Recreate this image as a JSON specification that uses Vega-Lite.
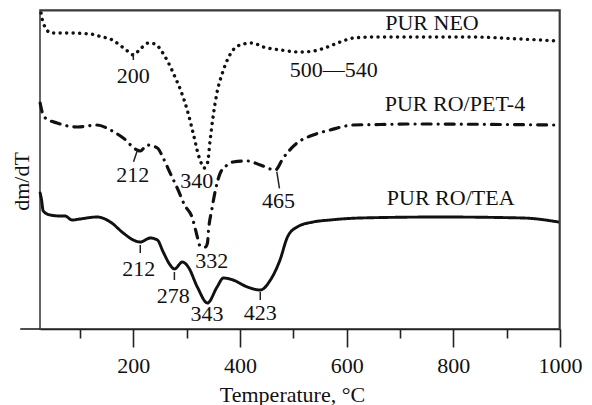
{
  "$schema": "https://vega.github.io/schema/vega-lite/v6.json",
  "width": 520,
  "height": 319,
  "autosize": {"type": "none"},
  "padding": {"left": 40, "top": 10, "right": 32, "bottom": 76},
  "config": {"view": {"stroke": "#333", "strokeWidth": 1.5}, "font": "Liberation Serif"},
  "resolve": {"axis": {"x": "independent"}},
  "datasets": {
    "curves": [
      {"s": "NEO", "t": 27, "v": 316}, {"s": "NEO", "t": 31, "v": 306}, {"s": "NEO", "t": 46, "v": 296}, {"s": "NEO", "t": 76, "v": 296},
      {"s": "NEO", "t": 119, "v": 295}, {"s": "NEO", "t": 142, "v": 292}, {"s": "NEO", "t": 157, "v": 290}, {"s": "NEO", "t": 172, "v": 285},
      {"s": "NEO", "t": 189, "v": 278}, {"s": "NEO", "t": 200, "v": 274}, {"s": "NEO", "t": 213, "v": 280}, {"s": "NEO", "t": 228, "v": 286},
      {"s": "NEO", "t": 241, "v": 285}, {"s": "NEO", "t": 254, "v": 277}, {"s": "NEO", "t": 266, "v": 266}, {"s": "NEO", "t": 279, "v": 251},
      {"s": "NEO", "t": 290, "v": 237}, {"s": "NEO", "t": 301, "v": 219}, {"s": "NEO", "t": 313, "v": 194}, {"s": "NEO", "t": 322, "v": 174},
      {"s": "NEO", "t": 329, "v": 164}, {"s": "NEO", "t": 333, "v": 161}, {"s": "NEO", "t": 339, "v": 166}, {"s": "NEO", "t": 344, "v": 189},
      {"s": "NEO", "t": 350, "v": 214}, {"s": "NEO", "t": 356, "v": 234}, {"s": "NEO", "t": 367, "v": 256}, {"s": "NEO", "t": 378, "v": 271},
      {"s": "NEO", "t": 387, "v": 279}, {"s": "NEO", "t": 400, "v": 284}, {"s": "NEO", "t": 423, "v": 286}, {"s": "NEO", "t": 444, "v": 282},
      {"s": "NEO", "t": 476, "v": 279}, {"s": "NEO", "t": 513, "v": 277}, {"s": "NEO", "t": 538, "v": 278}, {"s": "NEO", "t": 564, "v": 282},
      {"s": "NEO", "t": 588, "v": 287}, {"s": "NEO", "t": 613, "v": 291}, {"s": "NEO", "t": 650, "v": 292}, {"s": "NEO", "t": 714, "v": 292},
      {"s": "NEO", "t": 838, "v": 292}, {"s": "NEO", "t": 926, "v": 290}, {"s": "NEO", "t": 999, "v": 288},

      {"s": "PET", "t": 25.3, "v": 226}, {"s": "PET", "t": 29, "v": 217}, {"s": "PET", "t": 35, "v": 211}, {"s": "PET", "t": 57, "v": 206},
      {"s": "PET", "t": 95, "v": 202}, {"s": "PET", "t": 132, "v": 204}, {"s": "PET", "t": 157, "v": 199}, {"s": "PET", "t": 181, "v": 191},
      {"s": "PET", "t": 207, "v": 179}, {"s": "PET", "t": 213, "v": 178}, {"s": "PET", "t": 226, "v": 184}, {"s": "PET", "t": 245, "v": 181},
      {"s": "PET", "t": 256, "v": 171}, {"s": "PET", "t": 269, "v": 156}, {"s": "PET", "t": 284, "v": 139}, {"s": "PET", "t": 296, "v": 124},
      {"s": "PET", "t": 310, "v": 112}, {"s": "PET", "t": 320, "v": 92}, {"s": "PET", "t": 324, "v": 84}, {"s": "PET", "t": 329, "v": 82},
      {"s": "PET", "t": 335, "v": 82}, {"s": "PET", "t": 339, "v": 86}, {"s": "PET", "t": 341, "v": 99}, {"s": "PET", "t": 347, "v": 119},
      {"s": "PET", "t": 354, "v": 139}, {"s": "PET", "t": 363, "v": 156}, {"s": "PET", "t": 376, "v": 164}, {"s": "PET", "t": 387, "v": 167},
      {"s": "PET", "t": 414, "v": 168}, {"s": "PET", "t": 438, "v": 164}, {"s": "PET", "t": 466, "v": 159}, {"s": "PET", "t": 481, "v": 171},
      {"s": "PET", "t": 507, "v": 186}, {"s": "PET", "t": 537, "v": 194}, {"s": "PET", "t": 569, "v": 199}, {"s": "PET", "t": 613, "v": 204},
      {"s": "PET", "t": 663, "v": 204.5}, {"s": "PET", "t": 714, "v": 205}, {"s": "PET", "t": 995, "v": 204},

      {"s": "TEA", "t": 25.3, "v": 136}, {"s": "TEA", "t": 28, "v": 129}, {"s": "TEA", "t": 31, "v": 118}, {"s": "TEA", "t": 44, "v": 114},
      {"s": "TEA", "t": 63, "v": 113}, {"s": "TEA", "t": 72, "v": 113}, {"s": "TEA", "t": 85, "v": 109}, {"s": "TEA", "t": 100, "v": 110},
      {"s": "TEA", "t": 132, "v": 112}, {"s": "TEA", "t": 157, "v": 107}, {"s": "TEA", "t": 181, "v": 96}, {"s": "TEA", "t": 200, "v": 89},
      {"s": "TEA", "t": 213, "v": 87}, {"s": "TEA", "t": 232, "v": 91}, {"s": "TEA", "t": 245, "v": 89}, {"s": "TEA", "t": 256, "v": 77},
      {"s": "TEA", "t": 269, "v": 64}, {"s": "TEA", "t": 277, "v": 60}, {"s": "TEA", "t": 292, "v": 67}, {"s": "TEA", "t": 303, "v": 62},
      {"s": "TEA", "t": 320, "v": 42}, {"s": "TEA", "t": 339, "v": 26}, {"s": "TEA", "t": 357, "v": 42}, {"s": "TEA", "t": 369, "v": 51},
      {"s": "TEA", "t": 387, "v": 49}, {"s": "TEA", "t": 414, "v": 42}, {"s": "TEA", "t": 438, "v": 39}, {"s": "TEA", "t": 457, "v": 49},
      {"s": "TEA", "t": 475, "v": 69}, {"s": "TEA", "t": 489, "v": 92}, {"s": "TEA", "t": 507, "v": 102}, {"s": "TEA", "t": 537, "v": 107},
      {"s": "TEA", "t": 569, "v": 109}, {"s": "TEA", "t": 625, "v": 111}, {"s": "TEA", "t": 776, "v": 112}, {"s": "TEA", "t": 931, "v": 111},
      {"s": "TEA", "t": 997, "v": 107}
    ],
    "labels": [
      {"t": 200, "v": 253.5, "text": "200"},
      {"t": 576, "v": 259.5, "text": "500—540"},
      {"t": 760, "v": 306.5, "text": "PUR NEO"},
      {"t": 803, "v": 225, "text": "PUR RO/PET-4"},
      {"t": 795, "v": 131.5, "text": "PUR RO/TEA"},
      {"t": 199, "v": 154, "text": "212"},
      {"t": 319, "v": 148, "text": "340"},
      {"t": 472, "v": 128.5, "text": "465"},
      {"t": 210, "v": 60, "text": "212"},
      {"t": 275, "v": 33, "text": "278"},
      {"t": 347, "v": 68, "text": "332"},
      {"t": 338, "v": 15, "text": "343"},
      {"t": 438, "v": 16.5, "text": "423"}
    ],
    "ticks": [
      {"t": 200, "v": 276, "t2": 200, "v2": 269},
      {"t": 207.8, "v": 179, "t2": 200.4, "v2": 167.3},
      {"t": 469, "v": 157.3, "t2": 474, "v2": 140.7},
      {"t": 213, "v": 84, "t2": 213, "v2": 76},
      {"t": 277, "v": 57, "t2": 277, "v2": 49},
      {"t": 438, "v": 37, "t2": 438, "v2": 29}
    ],
    "frame": [
      {"t": 25, "t2": 1000, "v": 317.6, "v2": 319},
      {"t": 997.4, "t2": 1000, "v": 0, "v2": 319}
    ]
  },
  "layer": [
    {
      "data": {"name": "curves"},
      "mark": {"type": "line", "interpolate": "monotone", "strokeCap": "round", "color": "#111"},
      "encoding": {
        "x": {
          "field": "t", "type": "quantitative",
          "scale": {"domain": [25, 1000], "nice": false, "zero": false},
          "axis": {
            "orient": "bottom",
            "values": [200, 400, 600, 800, 1000],
            "format": "d",
            "tickSize": 18,
            "tickWidth": 1.6, "tickColor": "#222",
            "domainColor": "#222", "domainWidth": 1.6,
            "labelFont": "Liberation Serif", "labelFontSize": 22, "labelColor": "#111",
            "labelPadding": 8, "labelFlush": false, "labelOverlap": false,
            "grid": false,
            "title": "Temperature, °C",
            "titleFont": "Liberation Serif", "titleFontSize": 22, "titleFontWeight": "normal", "titleColor": "#111",
            "titleX": 252, "titleY": 72, "titleBaseline": "alphabetic"
          }
        },
        "y": {
          "field": "v", "type": "quantitative",
          "scale": {"domain": [0, 319], "nice": false, "zero": false},
          "axis": {
            "labels": false, "ticks": false, "domain": false, "grid": false,
            "title": "dm/dT",
            "titleFont": "Liberation Serif", "titleFontSize": 22, "titleFontWeight": "normal", "titleColor": "#111",
            "titleAngle": 270, "titleX": -12, "titleY": 171, "titleAlign": "center", "titleBaseline": "alphabetic"
          }
        },
        "strokeDash": {
          "field": "s", "type": "nominal",
          "scale": {"domain": ["NEO", "PET", "TEA"], "range": [[0.1, 6.4], [9, 7, 0.1, 7], [1, 0]]},
          "legend": null
        },
        "strokeWidth": {
          "field": "s", "type": "nominal",
          "scale": {"domain": ["NEO", "PET", "TEA"], "range": [3.4, 2.9, 2.8]},
          "legend": null
        }
      }
    },
    {
      "data": {"values": [{}]},
      "mark": {"type": "rule", "color": "#222", "strokeWidth": 1.6},
      "encoding": {
        "x": {
          "datum": -12, "type": "quantitative",
          "scale": {"domain": [25, 1000], "nice": false, "zero": false},
          "axis": {
            "orient": "bottom",
            "values": [100, 300, 500, 700, 900],
            "tickSize": 9, "tickWidth": 1.6, "tickColor": "#222",
            "labels": false, "domain": false, "grid": false, "title": null
          }
        },
        "x2": {"datum": 25},
        "y": {"datum": 0, "type": "quantitative", "scale": {"domain": [0, 319], "nice": false, "zero": false}}
      }
    },
    {
      "data": {"name": "frame"},
      "mark": {"type": "rect", "color": "#3a3a3a"},
      "encoding": {
        "x": {"field": "t", "type": "quantitative", "scale": {"domain": [25, 1000], "nice": false, "zero": false}, "axis": null},
        "x2": {"field": "t2"},
        "y": {"field": "v", "type": "quantitative", "scale": {"domain": [0, 319], "nice": false, "zero": false}},
        "y2": {"field": "v2"}
      }
    },
    {
      "data": {"name": "ticks"},
      "mark": {"type": "rule", "color": "#222", "strokeWidth": 1.5},
      "encoding": {
        "x": {"field": "t", "type": "quantitative", "scale": {"domain": [25, 1000], "nice": false, "zero": false}, "axis": null},
        "x2": {"field": "t2"},
        "y": {"field": "v", "type": "quantitative", "scale": {"domain": [0, 319], "nice": false, "zero": false}},
        "y2": {"field": "v2"}
      }
    },
    {
      "data": {"name": "labels"},
      "mark": {"type": "text", "font": "Liberation Serif", "fontSize": 22, "align": "center", "baseline": "middle", "color": "#111"},
      "encoding": {
        "x": {"field": "t", "type": "quantitative", "scale": {"domain": [25, 1000], "nice": false, "zero": false}, "axis": null},
        "y": {"field": "v", "type": "quantitative", "scale": {"domain": [0, 319], "nice": false, "zero": false}},
        "text": {"field": "text"}
      }
    }
  ]
}
